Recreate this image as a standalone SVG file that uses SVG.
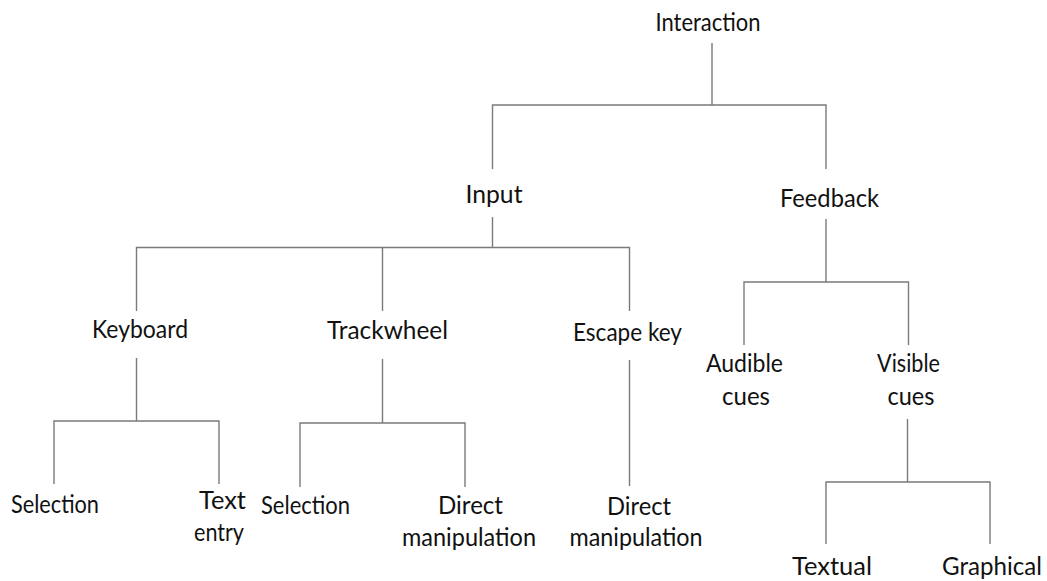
<svg xmlns="http://www.w3.org/2000/svg" width="1047" height="581" viewBox="0 0 1047 581">
<style>
.t{font-family:Lato,"Open Sans","Liberation Sans",sans-serif;font-size:24.5px;fill:#111;text-anchor:middle}
.c{fill:none;stroke:#7a7a7a;stroke-width:1.4}
</style>
<rect width="1047" height="581" fill="#fff"/>
<g id="connectors" class="c">
<path d="M712 43V105M492.5 169V105H826V169"/>
<path d="M492.5 217V247.5M136.5 311V247.5H629.5V311M382.5 247.5V311"/>
<path d="M136.5 358V421M54 484V421H219V484"/>
<path d="M382.5 359V423M300 487V423H465V487"/>
<path d="M629.5 360V486"/>
<path d="M826 219V282M744 345V282H908.5V345"/>
<path d="M907.5 419V482M826 544V482H990V544"/>
</g>
<g id="interaction"><text class="t" x="708" y="31" textLength="105" lengthAdjust="spacingAndGlyphs">Interaction</text></g>
<g id="input"><text class="t" x="494" y="203" textLength="57" lengthAdjust="spacingAndGlyphs">Input</text></g>
<g id="feedback"><text class="t" x="829.5" y="207" textLength="99" lengthAdjust="spacingAndGlyphs">Feedback</text></g>
<g id="keyboard"><text class="t" x="140" y="338" textLength="96" lengthAdjust="spacingAndGlyphs">Keyboard</text></g>
<g id="trackwheel"><text class="t" x="387.5" y="339" textLength="121" lengthAdjust="spacingAndGlyphs">Trackwheel</text></g>
<g id="escape-key"><text class="t" x="627.5" y="341" textLength="109" lengthAdjust="spacingAndGlyphs">Escape key</text></g>
<g id="audible-cues"><text class="t" x="744.5" y="372" textLength="77" lengthAdjust="spacingAndGlyphs">Audible</text><text class="t" x="746" y="405" textLength="48" lengthAdjust="spacingAndGlyphs">cues</text></g>
<g id="visible-cues"><text class="t" x="908.5" y="372" textLength="63" lengthAdjust="spacingAndGlyphs">Visible</text><text class="t" x="911" y="405" textLength="47" lengthAdjust="spacingAndGlyphs">cues</text></g>
<g id="kb-selection"><text class="t" x="55" y="513" textLength="88" lengthAdjust="spacingAndGlyphs">Selection</text></g>
<g id="kb-text-entry"><text class="t" x="222.5" y="509" textLength="47" lengthAdjust="spacingAndGlyphs">Text</text><text class="t" x="219" y="541" textLength="50" lengthAdjust="spacingAndGlyphs">entry</text></g>
<g id="tw-selection"><text class="t" x="305.5" y="514" textLength="89" lengthAdjust="spacingAndGlyphs">Selection</text></g>
<g id="tw-direct"><text class="t" x="470.5" y="514" textLength="65" lengthAdjust="spacingAndGlyphs">Direct</text><text class="t" x="469" y="546" textLength="134" lengthAdjust="spacingAndGlyphs">manipulation</text></g>
<g id="esc-direct"><text class="t" x="639" y="515" textLength="64" lengthAdjust="spacingAndGlyphs">Direct</text><text class="t" x="636" y="546" textLength="133" lengthAdjust="spacingAndGlyphs">manipulation</text></g>
<g id="textual"><text class="t" x="832" y="575" textLength="80" lengthAdjust="spacingAndGlyphs">Textual</text></g>
<g id="graphical"><text class="t" x="992" y="575" textLength="100" lengthAdjust="spacingAndGlyphs">Graphical</text></g>
</svg>
